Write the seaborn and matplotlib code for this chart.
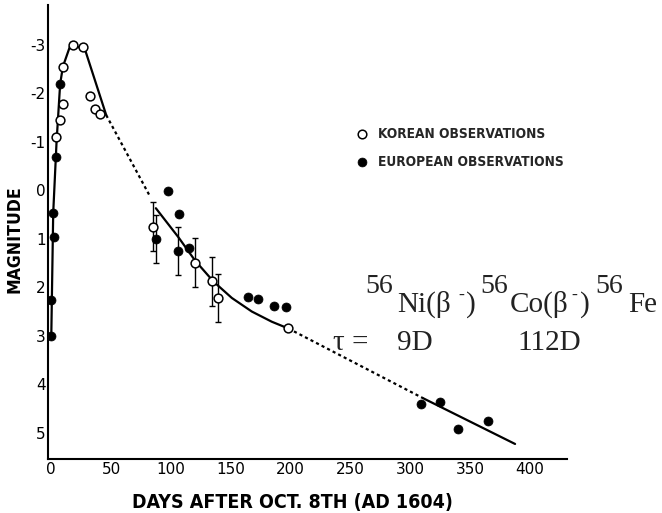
import matplotlib
matplotlib.use("Agg")
import matplotlib.pyplot as plt
from matplotlib import font_manager
from matplotlib.font_manager import FontProperties
from matplotlib.lines import Line2D
import seaborn as sns
import numpy as np
import pandas as pd

# ---------------- data ----------------
korean_day = [4.1, 7.4, 9.4, 9.7, 18.0, 26.4, 32.5, 36.7, 40.3, 84.6, 120.2, 134.2, 139.2, 198.2]
korean_mag = [-1.09, -1.44, -1.78, -2.55, -3.00, -2.96, -1.95, -1.68, -1.57, 0.75, 1.49, 1.88, 2.22, 2.83]
korean_err = [0, 0, 0, 0, 0, 0, 0, 0, 0, 0.5, 0.5, 0.5, 0.5, 0]

european_day = [0, 0, 1.5, 2.0, 4.3, 7.4, 87.4, 97.9, 105.8, 106.9, 115.5, 164.3, 173.1, 186.5, 196.0,
                308.8, 325.0, 339.7, 365.1]
european_mag = [3.0, 2.27, 0.47, 0.97, -0.69, -2.19, 1.0, 0.01, 1.25, 0.49, 1.19, 2.20, 2.24, 2.38, 2.41,
                4.40, 4.37, 4.93, 4.75]
european_err = [0, 0, 0, 0, 0, 0, 0.5, 0, 0.5, 0, 0, 0, 0, 0, 0, 0, 0, 0, 0]

fit_rise_day = [0, 1.6, 4.4, 7.4, 9.7, 15.8, 27.8, 45.9]
fit_rise_mag = [3.0, 0.47, -1.0, -2.19, -2.55, -2.98, -2.93, -1.55]
gap1_day = [45.9, 82.6]
gap1_mag = [-1.55, 0.13]
fit_mid_day = [87.4, 106.3, 120.2, 135.5, 150.9, 167.6, 184.3, 198.2]
fit_mid_mag = [0.37, 0.97, 1.45, 1.88, 2.22, 2.50, 2.71, 2.85]
gap2_day = [198.2, 311.0]
gap2_mag = [2.85, 4.29]
fit_tail_day = [311.0, 387.6]
fit_tail_mag = [4.29, 5.23]

x_ticks = [0, 50, 100, 150, 200, 250, 300, 350, 400]
y_ticks = [-3, -2, -1, 0, 1, 2, 3, 4, 5]
legend_labels = ["KOREAN OBSERVATIONS", "EUROPEAN OBSERVATIONS"]
x_label = "DAYS AFTER OCT. 8TH (AD 1604)"
y_label = "MAGNITUDE"

# ---------------- style ----------------
sns.set_theme(style="white")
plt.rcParams["font.family"] = ["DejaVu Sans"]
plt.rcParams["axes.unicode_minus"] = False

names = {(f.name, f.stretch) for f in font_manager.fontManager.ttflist}
fam_names = {n for n, _ in names}
if "Liberation Sans Narrow" in fam_names:
    LAB = dict(family="Liberation Sans Narrow", weight="bold")
    leg_fs, xl_fs, yl_fs = 11.8, 16.5, 15.5
elif ("DejaVu Sans", "condensed") in names:
    LAB = dict(family="DejaVu Sans", weight="bold", stretch="condensed")
    leg_fs, xl_fs, yl_fs = 9.8, 14.0, 12.6
else:
    LAB = dict(family="DejaVu Sans", weight="bold")
    leg_fs, xl_fs, yl_fs = 9.0, 12.9, 11.6

W, H = 662, 513
fig = plt.figure(figsize=(W / 100, H / 100), dpi=100)
fig.patch.set_facecolor("white")
ax_l, ax_r, ax_t, ax_b = 48.3, 567.0, 5.0, 459.0
ax = fig.add_axes([ax_l / W, 1 - ax_b / H, (ax_r - ax_l) / W, (ax_b - ax_t) / H])
ax.set_facecolor("white")

# model curves
lw = 1.6
dots = (0, (1.4, 1.4))
for d, m, ls in [(fit_rise_day, fit_rise_mag, "-"), (gap1_day, gap1_mag, dots),
                 (fit_mid_day, fit_mid_mag, "-"), (gap2_day, gap2_mag, dots),
                 (fit_tail_day, fit_tail_mag, "-")]:
    seg = pd.DataFrame({"day": d, "mag": m})
    sns.lineplot(data=seg, x="day", y="mag", sort=False, estimator=None, color="black",
                 linewidth=lw, linestyle=ls, ax=ax, zorder=2)

# error bars
kd = np.array(korean_day); km = np.array(korean_mag); ke = np.array(korean_err)
ed = np.array(european_day); em = np.array(european_mag); ee = np.array(european_err)
for d, m, e in [(kd, km, ke), (ed, em, ee)]:
    sel = e > 0
    ax.errorbar(d[sel], m[sel], yerr=e[sel], fmt="none", ecolor="black", elinewidth=1.0,
                capsize=2.2, capthick=1.0, zorder=3)

# points
sns.scatterplot(x=korean_day, y=korean_mag, marker="o", s=40, color="white",
                edgecolor="black", linewidth=1.1, ax=ax, zorder=4)
sns.scatterplot(x=european_day, y=european_mag, marker="o", s=42, color="black",
                edgecolor="black", linewidth=0.5, ax=ax, zorder=4)

# axes
ax.set_xlim(-2.5, 431)
ax.set_ylim(5.54, -3.82)
ax.set_xticks(x_ticks)
ax.set_yticks(y_ticks)
ax.set_yticklabels([str(v) for v in y_ticks])
for s in ["top", "right"]:
    ax.spines[s].set_visible(False)
for s in ["left", "bottom"]:
    ax.spines[s].set_linewidth(1.5)
    ax.spines[s].set_color("black")
ax.tick_params(axis="both", direction="in", length=3.6, width=1.1, color="black",
               labelsize=11, labelcolor="black", pad=2)
ax.grid(False)

ax.set_xlabel(x_label, fontsize=xl_fs, color="black", **LAB)
ax.set_ylabel(y_label, fontsize=yl_fs, color="black", **LAB)
ax.xaxis.set_label_coords((292 - ax_l) / (ax_r - ax_l), (ax_b - 502.5) / (ax_b - ax_t))
ax.xaxis.label.set_va("center")
ax.yaxis.set_label_coords((15 - ax_l) / (ax_r - ax_l), (ax_b - 239) / (ax_b - ax_t))
ax.yaxis.label.set_va("center")

# legend
handles = [Line2D([], [], marker="o", ls="", mfc="white", mec="black", ms=6.2, mew=1.1),
           Line2D([], [], marker="o", ls="", mfc="black", mec="black", ms=6.4, mew=0.5)]
lp = FontProperties(family=LAB["family"], weight="bold", size=leg_fs,
                    stretch=LAB.get("stretch", "normal"))
fs_px = leg_fs / 72 * 100
x0 = 361.7 - 0.5 * fs_px
ax.legend(handles, legend_labels, loc="upper left",
          bbox_to_anchor=(x0 / W, 1 - 127.5 / H), bbox_transform=fig.transFigure,
          frameon=False, handlelength=1.0, handletextpad=(378 - x0 - fs_px) / fs_px,
          labelspacing=1.02, borderpad=0, borderaxespad=0, prop=lp)

# decay annotation
SERIF = ["Liberation Serif", "DejaVu Serif"]
def ftxt(x, y, s, size):
    fig.text(x / W, 1 - y / H, s, fontsize=size, family=SERIF, color="#222222",
             ha="left", va="baseline")

main_fs, sup_fs = 21, 20
base1, sup1 = 311.7, 293.3
ftxt(365, sup1, "56", sup_fs)
ftxt(396.7, base1, "Ni(β", main_fs)
ftxt(458, 300, "-", 13)
ftxt(466, base1, ")", main_fs)
ftxt(480, sup1, "56", sup_fs)
ftxt(510, base1, "Co(β", main_fs)
ftxt(571, 300, "-", 13)
ftxt(580, base1, ")", main_fs)
ftxt(595, sup1, "56", sup_fs)
ftxt(628, base1, "Fe", main_fs)
base2 = 350
ftxt(333, base2, "τ =", main_fs)
ftxt(397, base2, "9D", main_fs)
ftxt(517, base2, "112D", main_fs)

fig.savefig("out.png", dpi=100, facecolor="white")
